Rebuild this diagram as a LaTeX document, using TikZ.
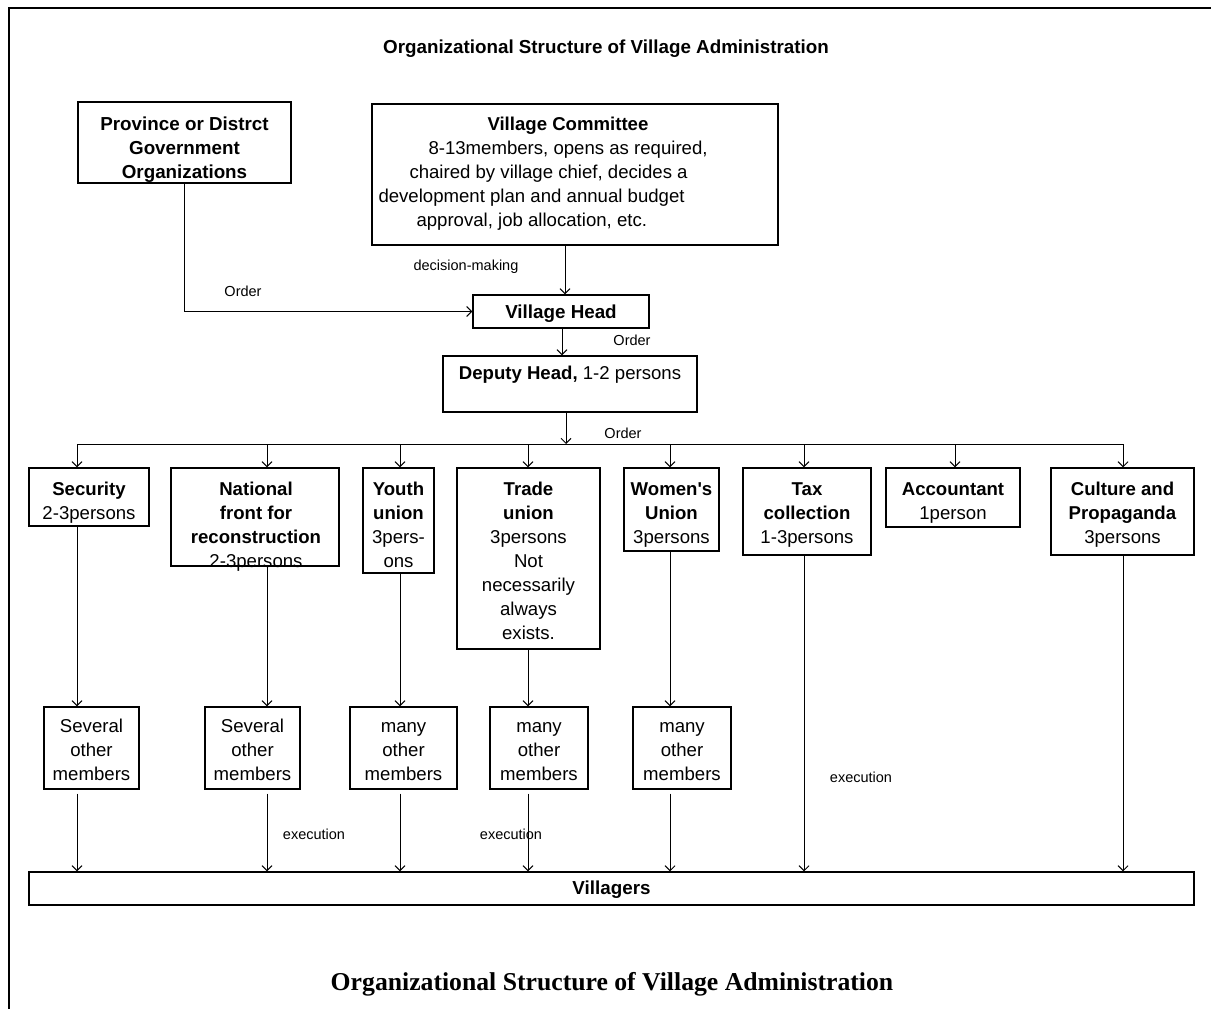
\documentclass[tikz,border=0pt]{standalone}
\usepackage{fontspec}
\setmainfont{Liberation Sans}[Ligatures=TeXOff]
\newfontfamily\serifcap{Liberation Serif}
\usetikzlibrary{arrows.meta}
% fixed first-line height, so that text blocks can be hung from a known top
\newcommand\firstline{\rule{0pt}{15pt}}
\begin{document}
\begin{tikzpicture}[x=1pt,y=-1pt,line width=1pt,
  every node/.style={font=\fontsize{18.6}{24}\selectfont},
  box/.style={draw,line width=1.2pt,inner sep=0pt,align=center},
  txt/.style={inner sep=0pt,align=center,anchor=north},
  hdr/.style={font=\bfseries\fontsize{18.8}{24}\selectfont},
  lbl/.style={font=\fontsize{14.5}{17}\selectfont,inner sep=0pt,anchor=base},
  arr/.style={-{Straight Barb[length=5pt,width=10pt]}}]
\useasboundingbox (0,0) rectangle (1211,1009);

% page frame (top and left rules)
\draw[line width=1.6pt] (9,1009) -- (9,8) -- (1211,8);

% headings
\node[hdr,inner sep=0pt,anchor=base] (title) at (606,53.7) {Organizational Structure of Village Administration};
\node[font=\serifcap\bfseries\fontsize{25.7}{30}\selectfont] (caption) at (612,984) {Organizational Structure of Village Administration};

% upper levels
\node[box,minimum width=213pt,minimum height=81pt] (prov) at (184.5,142.5) {};
\node[txt,hdr] (provtext) at (184.5,114.7) {\firstline Province or Distrct\\Government\\Organizations};
\node[box,minimum width=406pt,minimum height=141pt] (vc) at (575,174.5) {};
\node[inner sep=0pt,align=left,anchor=north west] (vctext) at (378,114.7) {\firstline\hspace*{109pt}\textbf{Village Committee}\\
\hspace*{50pt}8-13members, opens as required,\\
\hspace*{31pt}chaired by village chief, decides a\\
development plan and annual budget\\
\hspace*{38pt}approval, job allocation, etc.};
\node[box,hdr,minimum width=176pt,minimum height=33pt,text height=14.4pt,text depth=0pt] (vh) at (561,311.5) {Village Head};
\node[box,minimum width=254pt,minimum height=56pt] (dep) at (570,384) {};
\node[inner sep=0pt,anchor=base] (deptext) at (570,379.7) {\textbf{Deputy Head,} 1-2 persons};

% sections
\node[box,minimum width=120pt,minimum height=58pt] (sec) at (89,497) {};
\node[box,minimum width=168pt,minimum height=98pt] (nat) at (255,517) {};
\node[box,minimum width=71pt,minimum height=105pt] (youth) at (398.5,520.5) {};
\node[box,minimum width=143pt,minimum height=181pt] (trade) at (528.5,558.5) {};
\node[box,minimum width=95pt,minimum height=83pt] (women) at (671.5,509.5) {};
\node[box,minimum width=128pt,minimum height=87pt] (tax) at (807,511.5) {};
\node[box,minimum width=134pt,minimum height=59pt] (acc) at (953,497.5) {};
\node[box,minimum width=143pt,minimum height=87pt] (cult) at (1122.5,511.5) {};

\node[txt] (sectext) at (89,479.7) {\firstline\textbf{Security}\\2-3persons};
\node[txt] (nattext) at (256,479.7) {\firstline\textbf{National}\\\textbf{front for}\\\textbf{reconstruction}\\2-3persons};
\node[txt] (youthtext) at (398.5,479.7) {\firstline\textbf{Youth}\\\textbf{union}\\3pers-\\ons};
\node[txt] (tradetext) at (528.5,479.7) {\firstline\textbf{Trade}\\\textbf{union}\\3persons\\Not\\necessarily\\always\\exists.};
\node[txt] (womentext) at (671.5,479.7) {\firstline\textbf{Women's}\\\textbf{Union}\\3persons};
\node[txt] (taxtext) at (807,479.7) {\firstline\textbf{Tax}\\\textbf{collection}\\1-3persons};
\node[txt] (acctext) at (953,479.7) {\firstline\textbf{Accountant}\\1person};
\node[txt] (culttext) at (1122.5,479.7) {\firstline\textbf{Culture and}\\\textbf{Propaganda}\\3persons};

% member groups
\node[box,minimum width=95pt,minimum height=82pt] (m1) at (91.5,748) {};
\node[box,minimum width=95pt,minimum height=82pt] (m2) at (252.5,748) {};
\node[box,minimum width=107pt,minimum height=82pt] (m3) at (403.5,748) {};
\node[box,minimum width=98pt,minimum height=82pt] (m4) at (539,748) {};
\node[box,minimum width=98pt,minimum height=82pt] (m5) at (682,748) {};
\node[txt] (m1text) at (91.5,716.5) {\firstline Several\\other\\members};
\node[txt] (m2text) at (252.5,716.5) {\firstline Several\\other\\members};
\node[txt] (m3text) at (403.5,716.5) {\firstline many\\other\\members};
\node[txt] (m4text) at (539,716.5) {\firstline many\\other\\members};
\node[txt] (m5text) at (682,716.5) {\firstline many\\other\\members};

% villagers
\node[box,hdr,minimum width=1165pt,minimum height=33pt,text height=12.4pt,text depth=0pt] (vil) at (611.5,888.5) {Villagers};

% drop positions
\coordinate (xvc) at (565,0);
\coordinate (xvh) at (562,0);
\coordinate (xdep) at (566,0);
\coordinate (xprov) at (184,0);
\coordinate (bus) at (0,444);
\coordinate (xsec) at (77,0);
\coordinate (xnat) at (267,0);
\coordinate (xyouth) at (400,0);
\coordinate (xtrade) at (528,0);
\coordinate (xwomen) at (670,0);
\coordinate (xtax) at (804,0);
\coordinate (xacc) at (955,0);
\coordinate (xcult) at (1123,0);

% command chain
\draw[arr] (vc.south -| xvc) -- (vh.north -| xvc);
\draw[arr] (prov.south -| xprov) -- (xprov |- vh.west) -- (vh.west);
\draw[arr] (vh.south -| xvh) -- (dep.north -| xvh);
\draw[arr] (dep.south -| xdep) -- (xdep |- bus);
\draw (xsec |- bus) -- (xcult |- bus);
\foreach \s/\x in {sec/xsec,nat/xnat,youth/xyouth,trade/xtrade,women/xwomen,tax/xtax,acc/xacc,cult/xcult}
  \draw[arr] (\x |- bus) -- (\s.north -| \x);

% execution
\foreach \s/\m/\x in {sec/m1/xsec,nat/m2/xnat,youth/m3/xyouth,trade/m4/xtrade,women/m5/xwomen}{
  \draw[arr] (\s.south -| \x) -- (\m.north -| \x);
  \draw[arr,shorten <=4pt] (\m.south -| \x) -- (vil.north -| \x);
}
\draw[arr] (tax.south -| xtax) -- (vil.north -| xtax);
\draw[arr] (cult.south -| xcult) -- (vil.north -| xcult);

% connector labels
\node[lbl] (ldec) at (466,270.2) {decision-making};
\node[lbl] (lord1) at (243,296.2) {Order};
\node[lbl] (lord2) at (632,345.2) {Order};
\node[lbl] (lord3) at (623,438.2) {Order};
\node[lbl] (lex1) at (314,839.2) {execution};
\node[lbl] (lex2) at (511,839.2) {execution};
\node[lbl] (lex3) at (861,782.2) {execution};
\end{tikzpicture}
\end{document}
